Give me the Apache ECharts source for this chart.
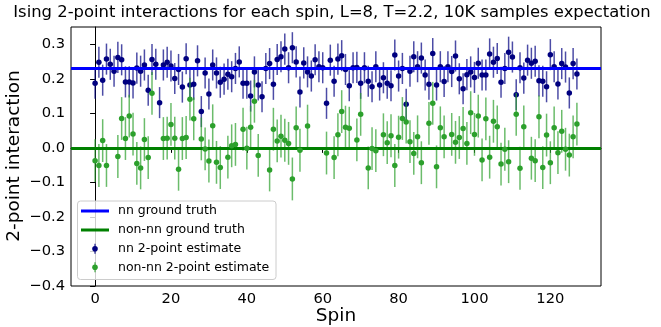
<!DOCTYPE html>
<html>
<head>
<meta charset="utf-8">
<script src="https://cdn.jsdelivr.net/npm/echarts@6/dist/echarts.min.js"></script>
<style>
  html, body { margin: 0; padding: 0; background: #fff; }
  #chart { width: 661px; height: 327px; }
</style>
</head>
<body>
<div id="chart"></div>
<script>
// Spin indices 0..127
const spins = Array.from({ length: 128 }, (_, i) => i);

// Estimated nearest-neighbour 2-point interaction per spin
const nnEstimate = [
  0.187, 0.248, 0.196, 0.257, 0.242, 0.222, 0.262, 0.255, 0.191, 0.191,
  0.188, 0.231, 0.222, 0.240, 0.167, 0.256, 0.242, 0.131, 0.240, 0.248,
  0.237, 0.201, 0.227, 0.176, 0.258, 0.182, 0.184, 0.252, 0.105, 0.217,
  0.156, 0.240, 0.217, 0.190, 0.199, 0.213, 0.206, 0.230, 0.249, 0.187,
  0.187, 0.150, 0.220, 0.182, 0.148, 0.230, 0.244, 0.184, 0.256, 0.264,
  0.286, 0.232, 0.290, 0.249, 0.162, 0.246, 0.220, 0.208, 0.255, 0.235,
  0.232, 0.129, 0.254, 0.193, 0.257, 0.267, 0.227, 0.180, 0.232, 0.233,
  0.187, 0.232, 0.193, 0.177, 0.235, 0.182, 0.203, 0.187, 0.180, 0.269,
  0.208, 0.230, 0.126, 0.222, 0.264, 0.235, 0.260, 0.211, 0.184, 0.273,
  0.182, 0.235, 0.192, 0.235, 0.221, 0.266, 0.200, 0.171, 0.212, 0.220,
  0.204, 0.245, 0.211, 0.211, 0.272, 0.248, 0.259, 0.190, 0.230, 0.277,
  0.263, 0.154, 0.232, 0.202, 0.254, 0.245, 0.251, 0.194, 0.193, 0.177,
  0.270, 0.235, 0.185, 0.244, 0.234, 0.159, 0.244, 0.214
];

// Estimated non-nearest-neighbour 2-point interaction per spin (null = not drawn)
const nonNnEstimate = [
  -0.037, -0.051, 0.021, -0.051, null, null, -0.025, 0.085, 0.027, 0.092,
  0.040, -0.045, -0.058, 0.024, -0.028, 0.158, null, null, 0.027, 0.028,
  0.068, 0.028, -0.062, 0.027, 0.030, 0.141, 0.084, null, 0.026, -0.003,
  -0.038, 0.064, -0.042, -0.057, null, -0.027, 0.006, 0.010, null, 0.054,
  -0.001, 0.060, 0.135, -0.022, null, null, -0.064, 0.054, 0.020, 0.034,
  0.022, 0.013, -0.090, 0.058, -0.007, null, 0.063, null, null, null,
  null, -0.015, null, -0.028, 0.038, 0.105, 0.060, 0.057, null, 0.023,
  0.097, null, -0.058, -0.002, -0.008, null, 0.038, 0.015, 0.035, -0.051,
  0.031, 0.085, 0.075, 0.018, -0.016, 0.032, -0.043, null, 0.071, 0.129,
  -0.055, 0.058, 0.032, null, 0.039, 0.016, 0.030, 0.056, 0.013, 0.102,
  0.039, 0.092, -0.035, 0.084, -0.027, 0.077, 0.061, -0.047, -0.004, -0.040,
  null, 0.097, -0.059, 0.061, null, -0.030, -0.037, 0.090, -0.057, 0.037,
  -0.043, 0.058, -0.014, 0.048, -0.004, -0.021, 0.032, 0.069
];

// Half-width of the error bars
const nnError = 0.045;
const nonNnError = 0.062;

// Ground-truth couplings
const nnTruth = 0.227;
const nonNnTruth = 0.0;

// Tick labels
const xTicks = [0, 20, 40, 60, 80, 100, 120];
const yTicks = [-0.4, -0.3, -0.2, -0.1, 0.0, 0.1, 0.2, 0.3];

const FONT = 'DejaVu Sans';
const NAVY = '#000080';
const GREEN = '#2ca02c';

function pointData(values) {
  return spins.map(i => values[i] == null ? null : [i, values[i]]).filter(d => d);
}
function barData(values, err) {
  return spins.map(i => values[i] == null ? null : [i, values[i] - err, values[i] + err]).filter(d => d);
}
function errorBarSeries(data, color, z) {
  return {
    type: 'custom',
    z: z,
    silent: true,
    data: data,
    encode: { x: 0, y: [1, 2] },
    renderItem: function (params, api) {
      const lo = api.coord([api.value(0), api.value(1)]);
      const hi = api.coord([api.value(0), api.value(2)]);
      return {
        type: 'line',
        shape: { x1: lo[0], y1: lo[1], x2: hi[0], y2: hi[1] },
        style: { stroke: color, lineWidth: 1.5 }
      };
    }
  };
}
const fmt = v => v.toFixed(1).replace('-', '\u2212');

const chart = echarts.init(document.getElementById('chart'), null, { renderer: 'canvas' });

// Legend drawn as graphics: line swatches and error-bar markers
const LX = 81, LW = 28, TX = 118;
const rows = [211, 230, 248.7, 267.3];
const legendFont = { fontFamily: FONT, fontSize: 12.5, fill: '#000' };
const legendGraphics = [
  { type: 'rect', z: 100, shape: { x: 77.5, y: 201, width: 198.5, height: 78.5, r: 3 },
    style: { fill: 'rgba(255,255,255,0.8)', stroke: '#cccccc', lineWidth: 1 } },
  { type: 'line', z: 101, shape: { x1: LX, y1: rows[0], x2: LX + LW, y2: rows[0] }, style: { stroke: '#0000ff', lineWidth: 3 } },
  { type: 'line', z: 101, shape: { x1: LX, y1: rows[1], x2: LX + LW, y2: rows[1] }, style: { stroke: '#008000', lineWidth: 3 } },
  { type: 'line', z: 101, shape: { x1: LX + LW / 2, y1: rows[2] - 5, x2: LX + LW / 2, y2: rows[2] + 5 }, style: { stroke: 'rgba(0,0,128,0.7)', lineWidth: 1.5 } },
  { type: 'circle', z: 102, shape: { cx: LX + LW / 2, cy: rows[2], r: 2.8 }, style: { fill: NAVY } },
  { type: 'line', z: 101, shape: { x1: LX + LW / 2, y1: rows[3] - 5, x2: LX + LW / 2, y2: rows[3] + 5 }, style: { stroke: 'rgba(44,160,44,0.7)', lineWidth: 1.5 } },
  { type: 'circle', z: 102, shape: { cx: LX + LW / 2, cy: rows[3], r: 2.8 }, style: { fill: GREEN } },
  { type: 'text', z: 102, x: TX, y: rows[0], style: Object.assign({ text: 'nn ground truth', verticalAlign: 'middle' }, legendFont) },
  { type: 'text', z: 102, x: TX, y: rows[1], style: Object.assign({ text: 'non-nn ground truth', verticalAlign: 'middle' }, legendFont) },
  { type: 'text', z: 102, x: TX, y: rows[2], style: Object.assign({ text: 'nn 2-point estimate', verticalAlign: 'middle' }, legendFont) },
  { type: 'text', z: 102, x: TX, y: rows[3], style: Object.assign({ text: 'non-nn 2-point estimate', verticalAlign: 'middle' }, legendFont) }
];

const option = {
  backgroundColor: '#fff',
  animation: false,
  grid: { left: 71, right: 60, top: 27, bottom: 41, show: true, borderColor: '#000', borderWidth: 1, backgroundColor: 'transparent' },
  xAxis: {
    type: 'value', min: -6.35, max: 133.35,
    axisLine: { show: true, lineStyle: { color: '#000', width: 1 } },
    axisTick: { show: true, inside: false, length: 5, customValues: xTicks, lineStyle: { color: '#000', width: 1 } },
    axisLabel: { customValues: xTicks, color: '#000', fontFamily: FONT, fontSize: 14.7, margin: 6 },
    splitLine: { show: false }
  },
  yAxis: {
    type: 'value', min: -0.4, max: 0.35,
    axisLine: { show: true, lineStyle: { color: '#000', width: 1 } },
    axisTick: { show: true, inside: false, length: 5, customValues: yTicks, lineStyle: { color: '#000', width: 1 } },
    axisLabel: { customValues: yTicks, color: '#000', fontFamily: FONT, fontSize: 14.7, margin: 6, formatter: fmt },
    splitLine: { show: false }
  },
  graphic: [
    { type: 'text', x: 332, y: 13, style: { text: 'Ising 2-point interactions for each spin, L=8, T=2.2, 10K samples expectation', fontFamily: FONT, fontSize: 16.4, fill: '#000', align: 'center', verticalAlign: 'middle' } },
    { type: 'text', x: 336, y: 316, style: { text: 'Spin', fontFamily: FONT, fontSize: 18.5, fill: '#000', align: 'center', verticalAlign: 'middle' } },
    { type: 'text', x: 14, y: 156, rotation: Math.PI / 2, style: { text: '2-point interaction', fontFamily: FONT, fontSize: 18.5, fill: '#000', align: 'center', verticalAlign: 'middle' } }
  ].concat(legendGraphics),
  series: [
    {
      type: 'scatter', data: [], z: 1, silent: true,
      markLine: {
        silent: true, symbol: 'none', animation: false,
        label: { show: false },
        data: [
          { yAxis: nnTruth, lineStyle: { color: '#0000ff', width: 3, type: 'solid' } },
          { yAxis: nonNnTruth, lineStyle: { color: '#008000', width: 3, type: 'solid' } }
        ]
      }
    },
    errorBarSeries(barData(nnEstimate, nnError), 'rgba(0,0,128,0.7)', 2),
    { type: 'scatter', z: 3, silent: true, data: pointData(nnEstimate), symbolSize: 5.5, itemStyle: { color: NAVY, opacity: 1 } },
    errorBarSeries(barData(nonNnEstimate, nonNnError), 'rgba(44,160,44,0.7)', 4),
    { type: 'scatter', z: 5, silent: true, data: pointData(nonNnEstimate), symbolSize: 5.5, itemStyle: { color: GREEN, opacity: 1 } }
  ]
};
chart.setOption(option);
</script>
</body>
</html>
